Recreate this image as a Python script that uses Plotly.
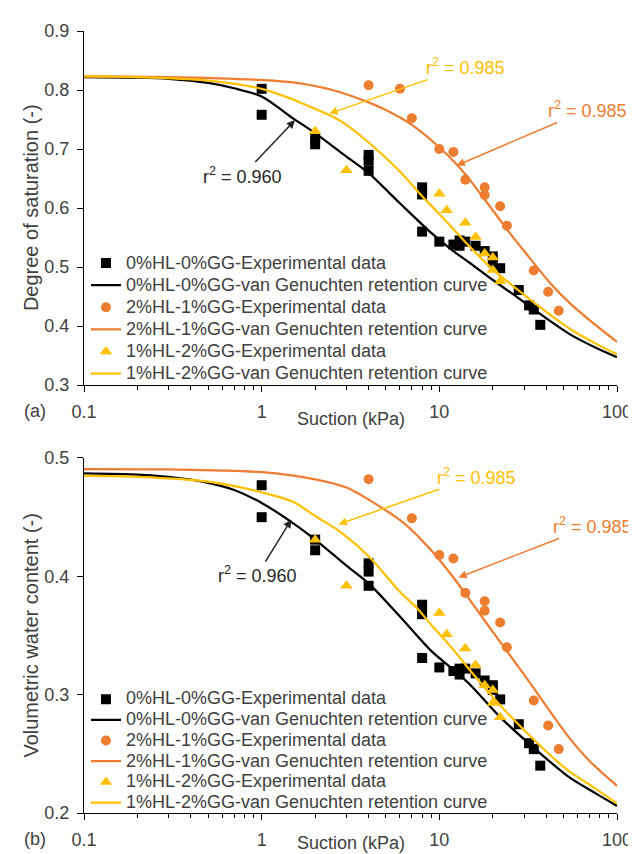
import math
import plotly.graph_objects as go

# ---------------- data: panel (a) degree of saturation ----------------
sq_x = [1, 1, 2, 2, 4, 4, 4, 8, 8, 8, 10, 12, 13, 13, 14, 16, 18, 20, 20, 22, 28, 32, 34, 37]
sq_sr = [0.802, 0.758, 0.718, 0.708, 0.690, 0.680, 0.663, 0.635, 0.623, 0.560, 0.543, 0.538,
         0.545, 0.536, 0.543, 0.536, 0.527, 0.518, 0.508, 0.498, 0.461, 0.435, 0.428, 0.402]
circ_x_a = [4, 6, 7, 10, 12, 14, 18, 18, 22, 24, 34, 41, 47]
circ_sr = [0.808, 0.802, 0.752, 0.700, 0.695, 0.648, 0.635, 0.622, 0.603, 0.570, 0.494, 0.458, 0.426]
tri_x = [2, 3, 10, 11, 14, 16, 18, 20, 20, 22]
tri_sr = [0.730, 0.664, 0.624, 0.596, 0.575, 0.551, 0.523, 0.516, 0.495, 0.476]

blk_x_a = [0.1, 0.2, 0.3, 0.5, 0.7, 1, 1.5, 2, 3, 4, 6, 9, 12, 15, 20, 28, 40, 55, 75, 100]
blk_sr = [0.822, 0.821, 0.819, 0.812, 0.803, 0.789, 0.752, 0.727, 0.687, 0.659, 0.608, 0.558,
          0.527, 0.506, 0.478, 0.447, 0.413, 0.385, 0.364, 0.347]
yel_x_a = [0.1, 0.2, 0.5, 1, 1.5, 2, 2.5, 3, 4, 6, 8, 10, 15, 20, 28, 40, 55, 75, 100]
yel_sr = [0.823, 0.822, 0.816, 0.802, 0.784, 0.768, 0.755, 0.741, 0.711, 0.662, 0.620, 0.590,
          0.533, 0.496, 0.460, 0.424, 0.394, 0.371, 0.352]
org_x_a = [0.1, 0.3, 1, 1.5, 2.5, 4, 5, 7, 10, 12.5, 15, 19, 25, 30, 42, 55, 70, 100]
org_sr = [0.823, 0.822, 0.817, 0.813, 0.800, 0.779, 0.766, 0.741, 0.703, 0.674, 0.646, 0.605,
          0.557, 0.527, 0.473, 0.437, 0.410, 0.373]

# ---------------- data: panel (b) volumetric water content ----------------
sq_vw = [0.477, 0.450, 0.431, 0.422, 0.411, 0.404, 0.392, 0.376, 0.368, 0.331, 0.323, 0.320,
         0.322, 0.317, 0.322, 0.318, 0.312, 0.308, 0.304, 0.296, 0.275, 0.259, 0.254, 0.240]
circ_x_b = [4, 7, 10, 12, 14, 18, 18, 22, 24, 34, 41, 47]
circ_vw = [0.482, 0.449, 0.418, 0.415, 0.386, 0.379, 0.371, 0.361, 0.340, 0.295, 0.274, 0.254]
tri_vw = [0.431, 0.392, 0.369, 0.351, 0.339, 0.325, 0.308, 0.304, 0.293, 0.281]

blk_x_b = [0.1, 0.2, 0.3, 0.5, 0.7, 1, 1.5, 2, 3, 4, 6, 9, 12, 15, 22, 33.5, 53, 75, 100]
blk_vw = [0.487, 0.486, 0.484, 0.479, 0.473, 0.462, 0.445, 0.431, 0.409, 0.394, 0.366, 0.337,
          0.321, 0.308, 0.281, 0.256, 0.231, 0.217, 0.206]
yel_x_b = [0.1, 0.2, 0.5, 1, 1.5, 2, 2.75, 4, 6, 7.5, 9, 12, 15, 22, 33.5, 53, 75, 100]
yel_vw = [0.485, 0.484, 0.480, 0.471, 0.463, 0.451, 0.438, 0.417, 0.387, 0.373, 0.359, 0.338,
          0.320, 0.291, 0.263, 0.236, 0.221, 0.208]
org_x_b = [0.1, 0.3, 1, 2, 3, 4.4, 6.44, 9, 12, 14.7, 20, 30, 53, 70, 100]
org_vw = [0.4906, 0.4903, 0.488, 0.482, 0.475, 0.461, 0.444, 0.422, 0.399, 0.381, 0.353, 0.317,
          0.265, 0.244, 0.223]

names = ["0%HL-0%GG-Experimental data", "0%HL-0%GG-van Genuchten retention curve",
         "2%HL-1%GG-Experimental data", "2%HL-1%GG-van Genuchten retention curve",
         "1%HL-2%GG-Experimental data", "1%HL-2%GG-van Genuchten retention curve"]
x_ticks = [0.1, 1, 10, 100]
x_ticklabels = ["0.1", "1", "10", "100"]
r2_labels = ["0.960", "0.985", "0.985"]

BLACK = "#000000"
ORANGE = "#ED7D31"
GOLD = "#FFC000"
TXT = "#404040"
FONT = "Liberation Sans, Arial, sans-serif"

fig = go.Figure()


def lg(name):
    # legend label rendered at 18px while rows keep the tight spacing of the original
    return '<span style="font-size:18px">' + name + "</span>"


def add_panel(xa, ya, leg, sq_y, cx, cy, ty, bx, by, ox, oy, yx, yy):
    fig.add_trace(go.Scatter(x=sq_x, y=sq_y, mode="markers", name=lg(names[0]), xaxis=xa, yaxis=ya,
                             legend=leg, marker=dict(symbol="square", size=10, color=BLACK)))
    fig.add_trace(go.Scatter(x=bx, y=by, mode="lines", name=lg(names[1]), xaxis=xa, yaxis=ya,
                             legend=leg, line=dict(color=BLACK, width=2.25, shape="spline", smoothing=0.8)))
    fig.add_trace(go.Scatter(x=cx, y=cy, mode="markers", name=lg(names[2]), xaxis=xa, yaxis=ya,
                             legend=leg, marker=dict(symbol="circle", size=10, color=ORANGE)))
    fig.add_trace(go.Scatter(x=ox, y=oy, mode="lines", name=lg(names[3]), xaxis=xa, yaxis=ya,
                             legend=leg, line=dict(color=ORANGE, width=2.25, shape="spline", smoothing=0.8)))
    fig.add_trace(go.Scatter(x=tri_x, y=ty, mode="markers", name=lg(names[4]), xaxis=xa, yaxis=ya,
                             legend=leg, marker=dict(symbol="triangle-up", size=11, color=GOLD)))
    fig.add_trace(go.Scatter(x=yx, y=yy, mode="lines", name=lg(names[5]), xaxis=xa, yaxis=ya,
                             legend=leg, line=dict(color=GOLD, width=2.25, shape="spline", smoothing=0.8)))


add_panel("x", "y", "legend", sq_sr, circ_x_a, circ_sr, tri_sr,
          blk_x_a, blk_sr, org_x_a, org_sr, yel_x_a, yel_sr)
add_panel("x2", "y2", "legend2", sq_vw, circ_x_b, circ_vw, tri_vw,
          blk_x_b, blk_vw, org_x_b, org_vw, yel_x_b, yel_vw)

minor_vals = [m * 10 ** e for e in (-1, 0, 1) for m in range(2, 10)]

xax = dict(type="log", range=[-1, 2], tickmode="array", tickvals=x_ticks, ticktext=x_ticklabels,
           showline=True, linecolor=BLACK, linewidth=1.2, ticks="outside", ticklen=6,
           tickcolor=BLACK, tickwidth=1.2, showgrid=False, zeroline=False,
           ticklabelstandoff=4,
           tickfont=dict(size=18, color=TXT, family=FONT),
           minor=dict(tickmode="array", tickvals=minor_vals, ticks="outside", ticklen=4,
                      tickcolor=BLACK, tickwidth=1.2, showgrid=False))
yax = dict(showline=True, linecolor=BLACK, linewidth=1.2, ticks="outside", ticklen=6,
           tickcolor=BLACK, tickwidth=1.2, showgrid=False, zeroline=False, dtick=0.1,
           tickformat=".1f", ticklabelstandoff=4,
           tickfont=dict(size=18, color=TXT, family=FONT))

H = 854
T, B = 23, 38
PH = H - T - B
L, R = 76, 16
PW = 636 - L - R


def py(px):
    return (H - B - px) / PH


def pxx(px):
    return (px - L) / PW


leg_common = dict(xanchor="left", yanchor="top", bgcolor="rgba(0,0,0,0)",
                  tracegroupgap=0, itemwidth=30)

fig.update_layout(
    width=636, height=854,
    margin=dict(l=L, r=R, t=T, b=B),
    paper_bgcolor="white", plot_bgcolor="white",
    font=dict(family=FONT, size=18, color=TXT),
    showlegend=True,
    xaxis=dict(domain=[0, 1], anchor="y", **xax),
    yaxis=dict(domain=[py(382), 1], anchor="x", range=[0.3, 0.9], **yax),
    xaxis2=dict(domain=[0, 1], anchor="y2", **xax),
    yaxis2=dict(domain=[0, py(456)], anchor="x2", range=[0.2, 0.5], **yax),
    legend=dict(x=pxx(78), y=py(242), font=dict(size=14.7, color=TXT, family=FONT), **leg_common),
    legend2=dict(x=pxx(78), y=py(685), font=dict(size=13.6, color=TXT, family=FONT), **leg_common),
)

ann = []


def label(text, xp, yp, size=18, angle=0):
    ann.append(dict(text=text, x=pxx(xp), y=py(yp), xref="paper", yref="paper",
                    xanchor="center", yanchor="middle", textangle=angle,
                    showarrow=False, font=dict(size=size, color=TXT, family=FONT)))


label("Suction (kPa)", 348, 416)
label("Suction (kPa)", 348, 846)
label("Degree of saturation (-)", 22, 202.5, size=20, angle=-90)
label("Volumetric water content (-)", 22, 636, size=20, angle=-90)
label("(a)", 26, 408)
label("(b)", 26, 842)

# r^2 call-outs (arrow head on the curve, text offset in px)
callouts = [
    ("x", "y", 1.54, 0.749, -52, 55, "#262626", r2_labels[0]),
    ("x", "y", 2.40, 0.760, 136, -47, GOLD, r2_labels[1]),
    ("x", "y", 12.5, 0.672, 131, -56, ORANGE, r2_labels[2]),
    ("x2", "y2", 1.47, 0.448, -34, 55, "#262626", r2_labels[0]),
    ("x2", "y2", 2.71, 0.444, 138, -48, GOLD, r2_labels[1]),
    ("x2", "y2", 12.8, 0.399, 134, -52, ORANGE, r2_labels[2]),
]
for xr, yr, hx, hy, ax, ay, col, lab in callouts:
    ann.append(dict(text="r<sup>2</sup> = " + lab, x=math.log10(hx), y=hy, xref=xr, yref=yr,
                    ax=ax, ay=ay, showarrow=True, arrowhead=2, arrowsize=1.1, arrowwidth=1.5,
                    arrowcolor=col, font=dict(size=18, color=col, family=FONT)))
fig.update_layout(annotations=ann)

fig.write_html("out.html")
